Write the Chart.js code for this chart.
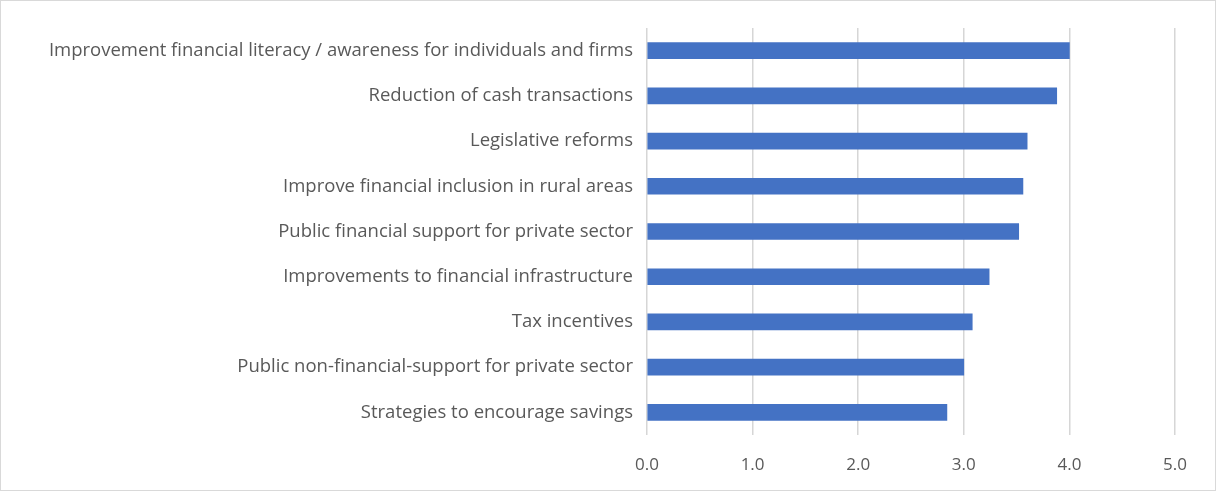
<!DOCTYPE html>
<html>
<head>
<meta charset="utf-8">
<script src="https://cdn.jsdelivr.net/npm/chart.js@4"></script>
<style>
  html, body { margin: 0; padding: 0; background: #fff; }
  #wrap { width: 1217px; height: 491px; position: relative; }
</style>
</head>
<body>
<div id="wrap"><canvas id="barChart"></canvas></div>
<script>
const categories = [
  'Improvement financial literacy / awareness for individuals and firms',
  'Reduction of cash transactions',
  'Legislative reforms',
  'Improve financial inclusion in rural areas',
  'Public financial support for private sector',
  'Improvements to financial infrastructure',
  'Tax incentives',
  'Public non-financial-support for private sector',
  'Strategies to encourage savings'
];
const scores = [4.0, 3.88, 3.60, 3.56, 3.52, 3.24, 3.08, 3.0, 2.84];
const tickValues = [0, 1, 2, 3, 4, 5];

const fontFamily = '"Open Sans", Lato, sans-serif';

// thin grey frame round the whole chart
const framePlugin = {
  id: 'frame',
  beforeDraw(chart) {
    const ctx = chart.ctx;
    ctx.save();
    ctx.strokeStyle = '#d9d9d9';
    ctx.lineWidth = 1;
    ctx.strokeRect(0.5, 0.5, chart.width - 2, chart.height - 1);
    ctx.restore();
  }
};

const ctxBar = document.getElementById('barChart').getContext('2d');
new Chart(ctxBar, {
  type: 'bar',
  data: {
    labels: categories,
    datasets: [{
      data: scores,
      backgroundColor: '#4472C4',
      barThickness: 16
    }]
  },
  plugins: [framePlugin],
  options: {
    indexAxis: 'y',
    responsive: true,
    maintainAspectRatio: false,
    animation: false,
    layout: { padding: { top: 28, right: 42, bottom: 0, left: 0 } },
    plugins: {
      legend: { display: false },
      tooltip: { enabled: false }
    },
    scales: {
      x: {
        min: 0,
        max: 5,
        afterBuildTicks(scale) {
          scale.ticks = tickValues.map(v => ({ value: v }));
        },
        afterFit(scale) { scale.height = 56; },
        grid: { color: '#d6d6d6', lineWidth: 1.5, drawTicks: false },
        border: { display: false },
        ticks: {
          padding: 20,
          color: '#595959',
          font: { family: fontFamily, size: 17 },
          callback: v => Number(v).toFixed(1)
        }
      },
      y: {
        afterFit(scale) { scale.width = 647; },
        grid: { display: false },
        border: { display: false },
        ticks: {
          padding: 6,
          color: '#595959',
          font: { family: fontFamily, size: 18.5 }
        }
      }
    }
  }
});
</script>
</body>
</html>
